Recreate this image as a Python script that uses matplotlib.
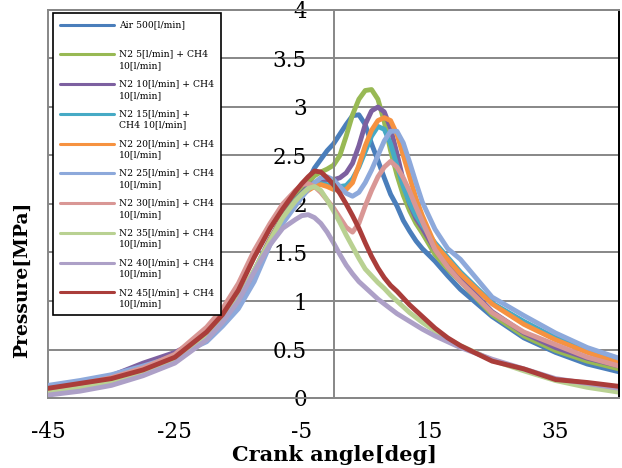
import matplotlib
matplotlib.use("Agg")
import matplotlib.pyplot as plt
from matplotlib.legend_handler import HandlerLine2D

# crank angle grid [deg]
angle = [-45, -40, -35, -30, -25, -20, -17.5, -15, -12.5, -10, -8,
         -6, -5, -4, -3, -2, -1, 0, 1, 2, 3, 4, 5, 6, 7, 8, 9, 10, 11, 12, 13, 14,
         16, 18, 20, 25, 30, 35, 40, 45]

# pressure [MPa]
air_500 = [0.09, 0.14, 0.21, 0.31, 0.43, 0.63, 0.80, 1.01, 1.31, 1.64, 1.87,
           2.06, 2.15, 2.24, 2.37, 2.46, 2.55, 2.62, 2.72, 2.82, 2.91, 2.92, 2.82, 2.62, 2.45, 2.27,
           2.10, 1.98, 1.83, 1.72, 1.62, 1.54,
           1.41, 1.26, 1.12, 0.84, 0.62, 0.47, 0.35, 0.27]
n2_5 = [0.08, 0.13, 0.20, 0.31, 0.43, 0.62, 0.79, 1.00, 1.30, 1.63, 1.86,
        2.05, 2.14, 2.22, 2.29, 2.33, 2.36, 2.40, 2.50, 2.70, 2.92, 3.08, 3.17, 3.18, 3.08, 2.85,
        2.55, 2.30, 2.09, 1.93, 1.80, 1.70,
        1.48, 1.33, 1.20, 0.86, 0.64, 0.49, 0.38, 0.30]
n2_10 = [0.09, 0.15, 0.23, 0.36, 0.47, 0.64, 0.80, 1.00, 1.30, 1.63, 1.86,
         2.04, 2.11, 2.18, 2.22, 2.24, 2.25, 2.25, 2.27, 2.32, 2.42, 2.60, 2.82, 2.96, 3.00, 2.95,
         2.78, 2.52, 2.24, 2.00, 1.85, 1.75,
         1.53, 1.37, 1.23, 0.89, 0.67, 0.52, 0.41, 0.33]
n2_15 = [0.08, 0.13, 0.20, 0.31, 0.43, 0.62, 0.79, 1.00, 1.30, 1.63, 1.86,
         2.04, 2.10, 2.16, 2.20, 2.21, 2.20, 2.19, 2.18, 2.19, 2.26, 2.38, 2.54, 2.70, 2.80, 2.77,
         2.62, 2.40, 2.18, 2.01, 1.88, 1.78,
         1.60, 1.45, 1.30, 0.98, 0.79, 0.62, 0.49, 0.38]
n2_20 = [0.08, 0.13, 0.20, 0.31, 0.43, 0.62, 0.79, 1.00, 1.30, 1.63, 1.86,
         2.03, 2.09, 2.14, 2.18, 2.20, 2.18, 2.15, 2.14, 2.15, 2.22, 2.40, 2.60, 2.76, 2.86, 2.89,
         2.86, 2.72, 2.50, 2.28, 2.06, 1.88,
         1.58, 1.43, 1.28, 0.97, 0.76, 0.60, 0.47, 0.36]
n2_25 = [0.13, 0.18, 0.24, 0.33, 0.43, 0.58, 0.74, 0.92, 1.20, 1.58, 1.80,
         1.98, 2.07, 2.15, 2.22, 2.27, 2.28, 2.25, 2.18, 2.11, 2.08, 2.12, 2.22, 2.35, 2.50, 2.65,
         2.75, 2.75, 2.63, 2.43, 2.22, 2.02,
         1.74, 1.54, 1.43, 1.04, 0.85, 0.67, 0.52, 0.41]
n2_30 = [0.09, 0.14, 0.21, 0.31, 0.45, 0.73, 0.92, 1.18, 1.52, 1.80, 2.00,
         2.14, 2.20, 2.21, 2.18, 2.12, 2.04, 1.96, 1.86, 1.76, 1.71, 1.80, 1.98, 2.14, 2.28, 2.38,
         2.44, 2.38, 2.27, 2.13, 1.97, 1.82,
         1.53, 1.35, 1.20, 0.88, 0.68, 0.55, 0.42, 0.33]
n2_35 = [0.05, 0.10, 0.16, 0.26, 0.40, 0.64, 0.80, 1.02, 1.32, 1.62, 1.86,
         2.03, 2.10, 2.16, 2.18, 2.14, 2.04, 1.93, 1.81, 1.68, 1.56, 1.44, 1.33, 1.26, 1.19, 1.13,
         1.06, 1.00, 0.94, 0.88, 0.83, 0.78,
         0.69, 0.61, 0.54, 0.39, 0.28, 0.18, 0.11, 0.06]
n2_40 = [0.03, 0.07, 0.13, 0.23, 0.36, 0.60, 0.78, 1.00, 1.30, 1.58, 1.75,
         1.84, 1.88, 1.89, 1.86, 1.80, 1.71, 1.60, 1.48, 1.37, 1.28, 1.20, 1.14, 1.08, 1.02, 0.97,
         0.92, 0.87, 0.83, 0.79, 0.75, 0.71,
         0.64, 0.58, 0.52, 0.40, 0.30, 0.20, 0.15, 0.10]
n2_45 = [0.10, 0.15, 0.20, 0.29, 0.42, 0.68, 0.86, 1.11, 1.45, 1.75, 1.95,
         2.13, 2.21, 2.28, 2.34, 2.33, 2.27, 2.20, 2.11, 2.00, 1.88, 1.75, 1.60, 1.46, 1.34, 1.24,
         1.16, 1.10, 1.03, 0.96, 0.90, 0.84,
         0.72, 0.62, 0.54, 0.38, 0.30, 0.19, 0.16, 0.12]

labels = ["Air 500[l/min]\n",
          "N2 5[l/min] + CH4\n10[l/min]",
          "N2 10[l/min] + CH4\n10[l/min]",
          "N2 15[l/min] +\nCH4 10[l/min]",
          "N2 20[l/min] + CH4\n10[l/min]",
          "N2 25[l/min] + CH4\n10[l/min]",
          "N2 30[l/min] + CH4\n10[l/min]",
          "N2 35[l/min] + CH4\n10[l/min]",
          "N2 40[l/min] + CH4\n10[l/min]",
          "N2 45[l/min] + CH4\n10[l/min]"]
series = [air_500, n2_5, n2_10, n2_15, n2_20, n2_25, n2_30, n2_35, n2_40, n2_45]
colors = ["#4A7EBB", "#98B954", "#7D60A0", "#46AAC5", "#F69240",
          "#8DA9DB", "#D99795", "#B9D192", "#ADA0C7", "#AA3D3A"]

x_ticks = [-45, -25, -5, 15, 35]
y_ticks = [0, 0.5, 1, 1.5, 2, 2.5, 3, 3.5, 4]
y_ticklabels = ["0", "0.5", "1", "1.5", "2", "2.5", "3", "3.5", "4"]

GRID = "#878787"


class HandlerFirstLine(HandlerLine2D):
    """ put the legend line next to the first text row """

    def create_artists(self, legend, orig_handle, xdescent, ydescent, width, height, fontsize, trans):
        return super().create_artists(legend, orig_handle, xdescent, ydescent - 1.25 * fontsize,
                                      width, height, fontsize, trans)


plt.rcParams['font.family'] = ['DejaVu Serif']
plt.rcParams['axes.unicode_minus'] = False

fig = plt.figure(figsize=(6.22, 4.68), dpi=100)
ax = fig.add_axes([48 / 622, 1 - 398 / 468, 571 / 622, 388 / 468])

for y, lab, c in zip(series, labels, colors):
    ax.plot(angle, y, color=c, lw=3.5, label=lab, solid_joinstyle='round', solid_capstyle='round')

ax.set_xlim(-45, 45)
ax.set_ylim(0, 4)
ax.set_xticks(x_ticks)
ax.set_yticks(y_ticks)
ax.set_yticklabels(y_ticklabels)
ax.tick_params(axis='x', length=0, pad=16.5, labelsize=15.5)
ax.tick_params(axis='y', length=0, pad=19, labelsize=15.5)
ax.yaxis.grid(True, color=GRID, lw=1.4)
ax.set_axisbelow(True)

ax.spines['left'].set_position(('data', 0))
ax.spines['left'].set_color(GRID)
ax.spines['left'].set_linewidth(1.4)
ax.spines['bottom'].set_color(GRID)
ax.spines['bottom'].set_linewidth(1.4)
ax.spines['top'].set_color(GRID)
ax.spines['top'].set_linewidth(1.4)
ax.spines['right'].set_color('black')
ax.spines['right'].set_linewidth(1.4)
ax.patch.set_edgecolor(GRID)
ax.patch.set_linewidth(1.4)

leg = ax.legend(loc='upper left', bbox_to_anchor=(5 / 571, 1 - 3 / 388), borderaxespad=0,
                fontsize=6.7, frameon=True, fancybox=False, framealpha=1,
                edgecolor='black', handlelength=5.8, handletextpad=0.55, labelspacing=1.0,
                borderpad=0.75, handler_map={plt.Line2D: HandlerFirstLine()})
leg.get_frame().set_linewidth(1.2)
for t in leg.get_texts():
    t.set_linespacing(1.35)
for h in leg.get_lines():
    h.set_linewidth(2.2)

fig.text(334 / 622, 1 - 455 / 468, "Crank angle[deg]", ha='center', va='center',
         fontsize=15, fontweight='bold')
fig.text(22 / 622, 1 - 280 / 468, "Pressure[MPa]", ha='center', va='center',
         rotation=90, fontsize=13.5, fontweight='bold')

fig.savefig("out.png", dpi=100)
